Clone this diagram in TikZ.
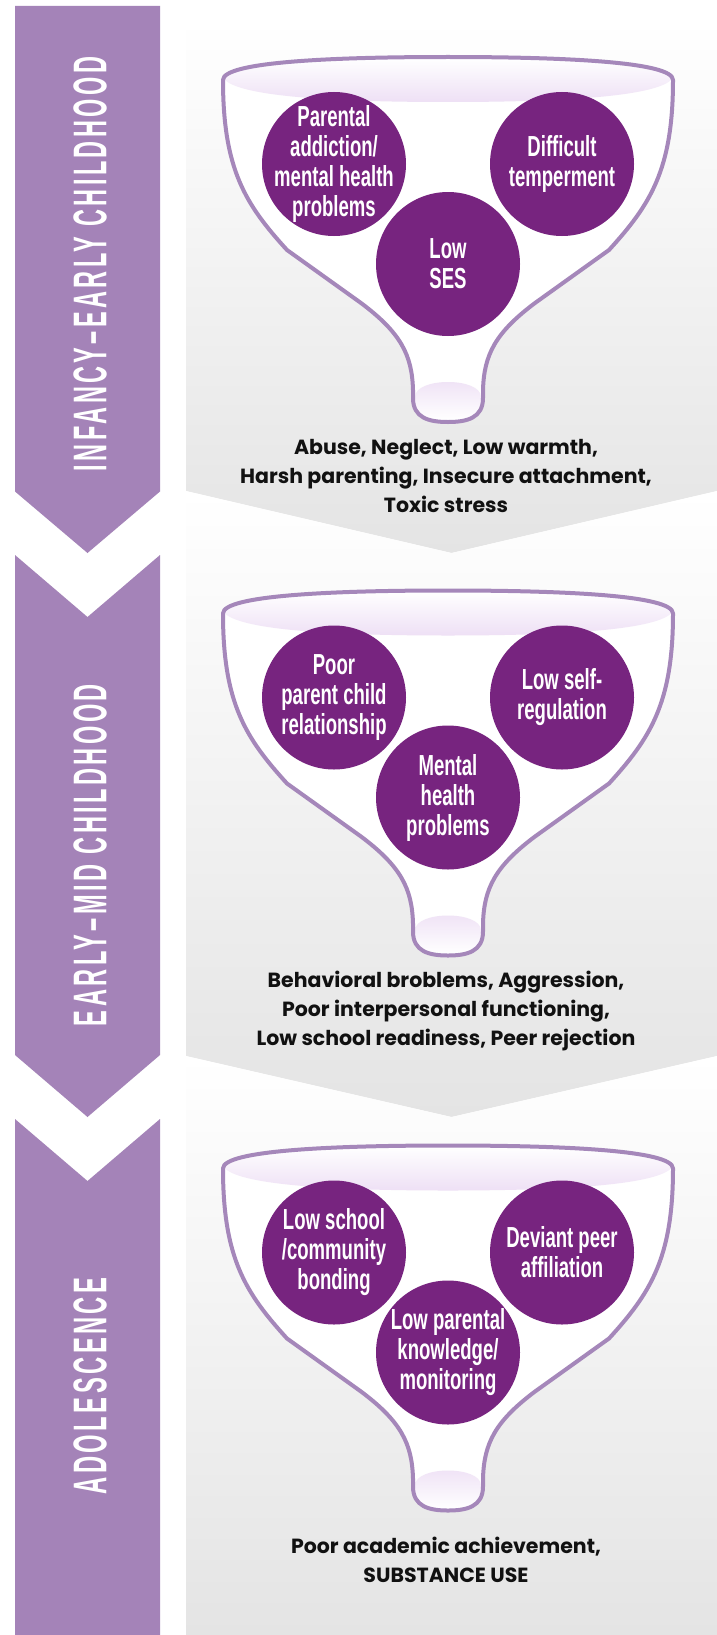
\documentclass[tikz,border=0pt]{standalone}
\usepackage{fontspec}
\newfontfamily\circfam[FakeStretch=0.64]{Liberation Sans}
\newfontfamily\bandfam[FakeStretch=0.55,LetterSpace=8.0]{Liberation Sans}
\newfontfamily\outfam{Poppins}
\definecolor{bandpurple}{HTML}{A483B8}
\definecolor{circpurple}{HTML}{77247F}
\definecolor{funnelline}{HTML}{A587BA}
\definecolor{lav}{HTML}{EEE0F5}
\definecolor{panelgray}{HTML}{E4E4E4}
\definecolor{txt}{HTML}{111111}
\tikzset{
  panel/.style={top color=white, bottom color=panelgray, draw=none},
  band/.style={fill=bandpurple, draw=none},
  bandtext/.style={rotate=90, text=white, inner sep=0pt},
  circ/.style={circle, fill=circpurple, minimum size=144pt, inner sep=0pt},
  ctext/.style={align=center, text=white, inner sep=0pt, font=\circfam\bfseries\fontsize{29}{30}\selectfont},
  outtext/.style={anchor=base, inner sep=0pt, text=txt, font=\outfam\bfseries\fontsize{20.5}{29}\selectfont},
  funnel/.pic={
    \path[fill=white] (-225,23) .. controls (-225,5) and (-118,0) .. (0,0) .. controls (118,0) and (225,5) .. (225,23)
      .. controls (225,113) and (202,148) .. (161,193) -- (87,246) .. controls (47,276) and (36,298) .. (35,333)
      -- (35,341) .. controls (35,361) and (19,365) .. (0,365) .. controls (-19,365) and (-35,361) .. (-35,341)
      -- (-35,333) .. controls (-36,298) and (-47,276) .. (-87,246) -- (-161,193) .. controls (-202,148) and (-225,113) .. cycle;
    \path[top color=white, bottom color=lav] (-223,23) .. controls (-223,6) and (-118,1) .. (0,1) .. controls (118,1) and (223,6) .. (223,23)
      .. controls (205,40) and (110,45) .. (0,45) .. controls (-110,45) and (-205,40) .. cycle;
    \path[top color=lav, bottom color=white] (-33,340) .. controls (-33,320) and (33,320) .. (33,340)
      .. controls (33,359) and (18,363) .. (0,363) .. controls (-18,363) and (-33,359) .. cycle;
    \draw[funnelline, line width=4pt, line join=round] (-225,23) .. controls (-225,5) and (-118,0) .. (0,0) .. controls (118,0) and (225,5) .. (225,23)
      .. controls (225,113) and (202,148) .. (161,193) -- (87,246) .. controls (47,276) and (36,298) .. (35,333)
      -- (35,341) .. controls (35,361) and (19,365) .. (0,365) .. controls (-19,365) and (-35,361) .. (-35,341)
      -- (-35,333) .. controls (-36,298) and (-47,276) .. (-87,246) -- (-161,193) .. controls (-202,148) and (-225,113) .. cycle;
  }
}
\begin{document}
\begin{tikzpicture}[x=1pt,y=-1pt]
\useasboundingbox (0,0) rectangle (717,1635);
\fill[white] (0,0) rectangle (717,1635);
% background panels
\path[panel] (186,20) -- (717,20) -- (717,491) -- (451.5,553) -- (186,491) -- cycle;
\path[panel] (186,491) -- (451.5,553) -- (717,491) -- (717,1056) -- (451.5,1117) -- (186,1056) -- cycle;
\path[panel] (186,1056) -- (451.5,1117) -- (717,1056) -- (717,1635) -- (186,1635) -- cycle;
% left bands
\path[band] (15,6) -- (160,6) -- (160,491.5) -- (87.5,553) -- (15,491.5) -- cycle;
\path[band] (15,555) -- (87.5,617) -- (160,555) -- (160,1055) -- (87.5,1117) -- (15,1055) -- cycle;
\path[band] (15,1119) -- (87.5,1181) -- (160,1119) -- (160,1635) -- (15,1635) -- cycle;
\node[bandtext] (b1) at (90,264) {\resizebox{414pt}{33pt}{\bandfam\bfseries INFANCY–EARLY CHILDHOOD}};
\node[bandtext] (b2) at (90,855) {\resizebox{342pt}{33pt}{\bandfam\bfseries EARLY–MID CHILDHOOD}};
\node[bandtext] (b3) at (90,1386) {\resizebox{217pt}{33pt}{\bandfam\bfseries ADOLESCENCE}};
% funnels
\pic at (448,57) {funnel};
\pic at (448,590.5) {funnel};
\pic at (448,1145.5) {funnel};
% funnel 1 circles
\node[circ] (ca1) at (334,164) {};
\node[circ] (cb1) at (562,164) {};
\node[circ] (cc1) at (448,264) {};
\node[ctext] (ta1) at (ca1) {Parental\\addiction/\\mental health\\problems};
\node[ctext] (tb1) at (cb1) {Difficult\\temperment};
\node[ctext] (tc1) at (cc1) {Low\\SES};
% funnel 2 circles
\node[circ] (ca2) at (334,697.5) {};
\node[circ] (cb2) at (562,697.5) {};
\node[circ] (cc2) at (448,797.5) {};
\node[ctext] (ta2) at (ca2) {Poor\\parent child\\relationship};
\node[ctext] (tb2) at (cb2) {Low self-\\regulation};
\node[ctext] (tc2) at (cc2) {Mental\\health\\problems};
% funnel 3 circles
\node[circ] (ca3) at (334,1252.5) {};
\node[circ] (cb3) at (562,1252.5) {};
\node[circ] (cc3) at (448,1352.5) {};
\node[ctext] (ta3) at (ca3) {Low school\\/community\\bonding};
\node[ctext] (tb3) at (cb3) {Deviant peer\\affiliation};
\node[ctext] (tc3) at (cc3) {Low parental\\knowledge/\\monitoring};
% outcome texts
\node[outtext] (o11) at (446,454) {Abuse, Neglect, Low warmth,};
\node[outtext] (o12) at (446,483) {Harsh parenting, Insecure attachment,};
\node[outtext] (o13) at (446,512) {Toxic stress};
\node[outtext] (o21) at (446,987) {Behavioral broblems, Aggression,};
\node[outtext] (o22) at (446,1016) {Poor interpersonal functioning,};
\node[outtext] (o23) at (446,1045) {Low school readiness, Peer rejection};
\node[outtext] (o31) at (446,1553) {Poor academic achievement,};
\node[outtext] (o32) at (446,1582) {SUBSTANCE USE};
\end{tikzpicture}
\end{document}
